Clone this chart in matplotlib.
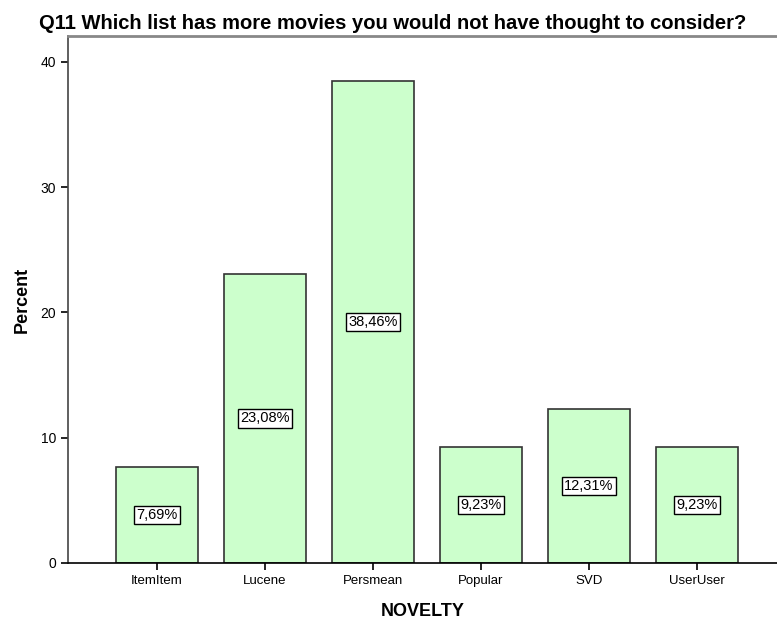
import numpy as np
import matplotlib.pyplot as plt

# DATA
categories = ["ItemItem", "Lucene", "Persmean", "Popular", "SVD", "UserUser"]
percents = [7.69, 23.08, 38.46, 9.23, 12.31, 9.23]
yticks = [0, 10, 20, 30, 40]

plt.rcParams['font.family'] = ['Liberation Sans', 'DejaVu Sans']

fig = plt.figure(figsize=(7.77, 6.19), dpi=100)
ax = fig.add_axes([68 / 777, 1 - 563 / 619, 1 - 68 / 777, (563 - 36) / 619])

x = np.arange(len(categories))
ax.bar(x, percents, width=0.76, color='#ccffcc', edgecolor='#333333', linewidth=1.2, zorder=2)

# percentage boxes in the middle of each bar
for xi, p in zip(x, percents):
    lbl = f"{p:.2f}%".replace('.', ',')
    ax.text(xi, p / 2, lbl, ha='center', va='center', fontsize=10.5,
            bbox=dict(boxstyle='square,pad=0.15', facecolor='white', edgecolor='black', linewidth=1))

ax.set_xlim(-0.824, 5.74)
ax.set_ylim(0, 42.06)
ax.set_xticks(x)
ax.set_xticklabels(categories, fontsize=9.5)
ax.set_yticks(yticks)
ax.set_yticklabels([str(t) for t in yticks], fontsize=10)
ax.tick_params(axis='both', length=5, width=1.2, color='black')

ax.spines['right'].set_visible(False)
ax.spines['top'].set_color('#888888')
ax.spines['top'].set_linewidth(2)
ax.spines['left'].set_color('#444444')
ax.spines['left'].set_linewidth(1.2)
ax.spines['bottom'].set_linewidth(1.2)

ax.set_xlabel("NOVELTY", fontsize=13, fontweight='bold', labelpad=12)
ax.set_ylabel("Percent", fontsize=13, fontweight='bold', labelpad=7)
fig.text(0.505, 0.962, "Q11 Which list has more movies you would not have thought to consider?",
         ha='center', va='center', fontsize=14.5, fontweight='bold')

fig.savefig("out.png", dpi=100)
